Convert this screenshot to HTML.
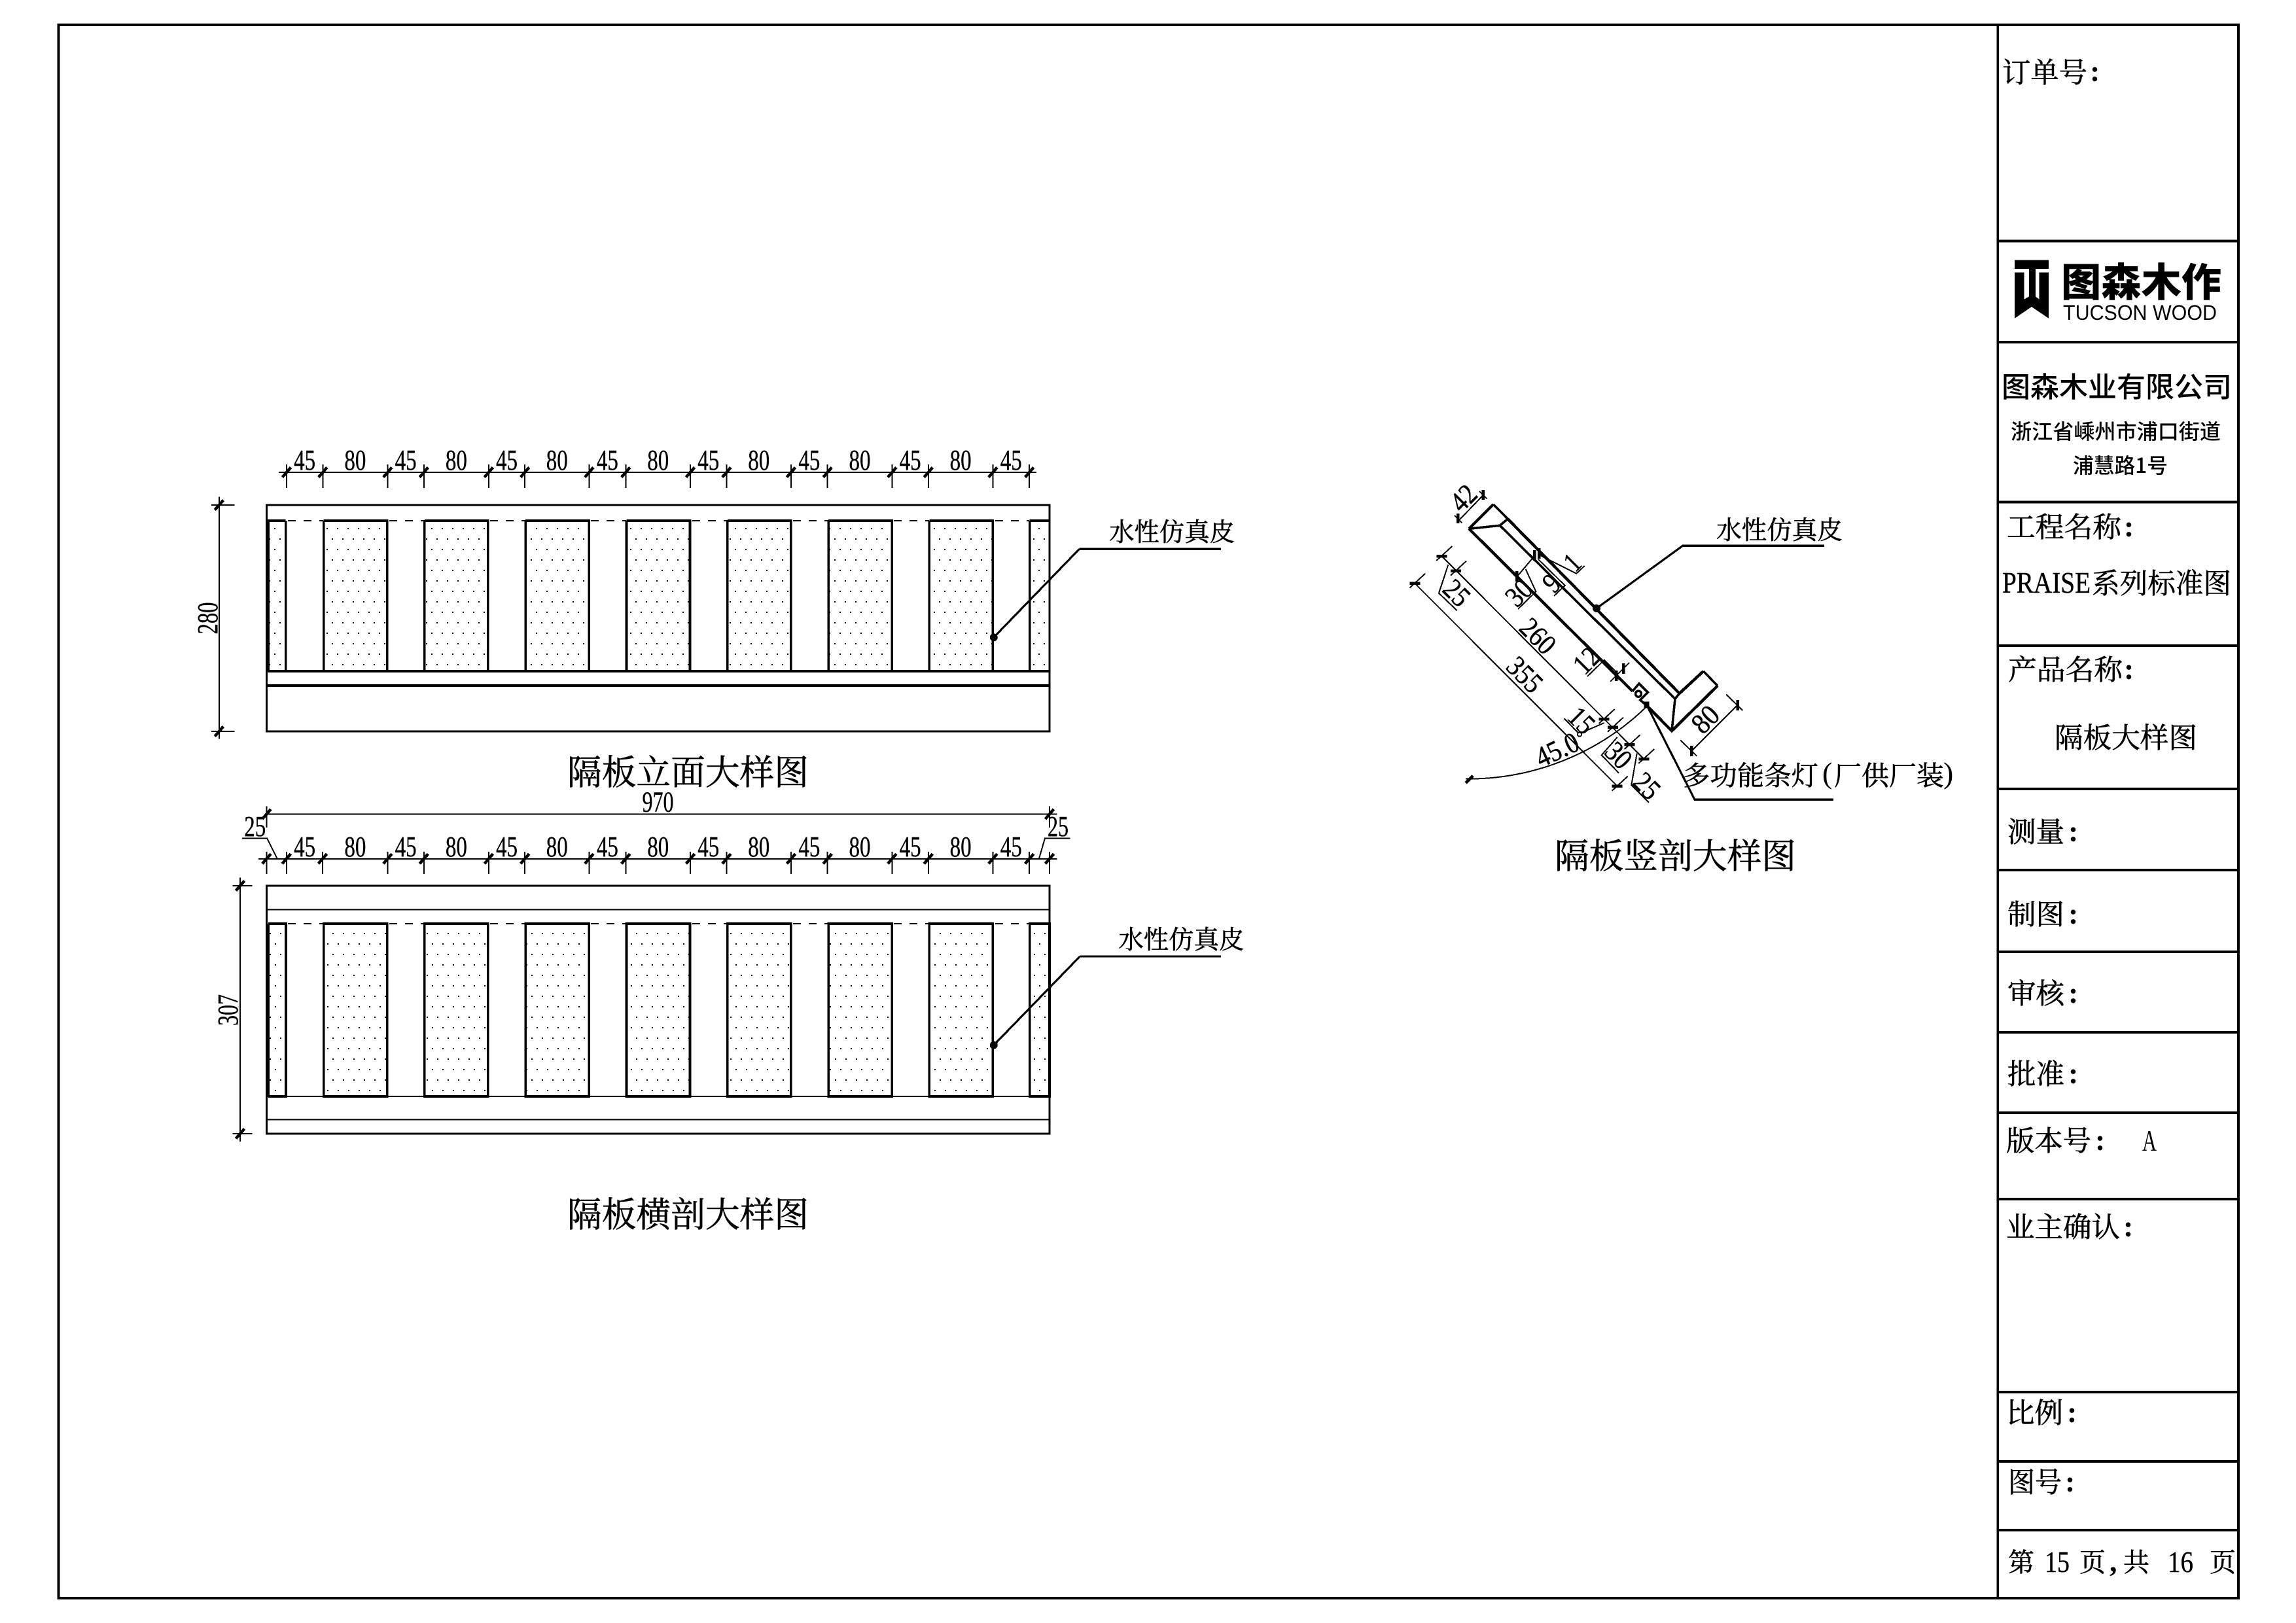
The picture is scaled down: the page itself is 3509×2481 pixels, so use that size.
<!DOCTYPE html>
<html lang="zh"><head><meta charset="utf-8"><title>隔板大样图</title>
<style>
html,body{margin:0;padding:0;background:#fff}
svg{display:block}
.l{fill:none;stroke:#000;stroke-width:2;stroke-linecap:butt}
.m{fill:none;stroke:#000;stroke-width:3.2}
.b{fill:none;stroke:#000;stroke-width:3.6}
.k{fill:none;stroke:#000;stroke-width:4.5}
.n{font-family:"Liberation Serif",serif;font-size:44px;fill:#000;text-anchor:middle;stroke:#000;stroke-width:.4}
.r{font-family:"Liberation Serif",serif;font-size:44px;fill:#000;text-anchor:middle;stroke:#000;stroke-width:.5}
.c{font-family:"Noto Serif CJK SC","Liberation Serif",serif;fill:#000;stroke:#000;stroke-width:.6}
.s{font-family:"Noto Sans CJK SC","Liberation Sans",sans-serif;fill:#000}
.d{font-family:"Liberation Serif",serif;font-weight:700;font-size:46px;fill:#000}
</style></head><body>
<svg xmlns="http://www.w3.org/2000/svg" width="3509" height="2481" viewBox="0 0 3509 2481" style="shape-rendering:crispEdges">
<defs>
<pattern id="p1" patternUnits="userSpaceOnUse" x="515" y="807" width="16" height="32"><rect x="0" y="0" width="2" height="2"/><rect x="8" y="16" width="2" height="2"/></pattern>
<pattern id="p2" patternUnits="userSpaceOnUse" x="508" y="1426" width="16" height="32"><rect x="0" y="0" width="2" height="2"/><rect x="8" y="16" width="2" height="2"/></pattern>
</defs>
<rect width="3509" height="2481" fill="#fff"/>

<!-- frame and title block -->
<rect x="89.5" y="38" width="3331.5" height="2405" fill="none" stroke="#000" stroke-width="3.6"/>
<path class="b" d="M3053.4 38V2443M3053.4 368.5H3421M3053.4 523H3421M3053.4 767.5H3421M3053.4 987H3421M3053.4 1206H3421M3053.4 1330H3421M3053.4 1455H3421M3053.4 1578H3421M3053.4 1701H3421M3053.4 1833H3421M3053.4 2128H3421M3053.4 2234H3421M3053.4 2339H3421"/>

<text class="c" x="3060" y="126" font-size="43" textLength="130" lengthAdjust="spacingAndGlyphs">订单号</text><text class="d" x="3194" y="124">:</text>
<path d="M3079 397.7H3131V486.7L3105 469L3079 486.7Z" fill="#000"/>
<path d="M3079 411H3101V453.3L3093.3 457.7V416.7H3079ZM3131 411H3111V453.3L3116.7 457.7V416.7H3131Z" fill="#fff"/>
<text class="s" x="3150" y="453" font-size="60" font-weight="900" textLength="245" lengthAdjust="spacingAndGlyphs">图森木作</text>
<text x="3153" y="489" font-family="Liberation Sans,sans-serif" font-size="32" textLength="235" lengthAdjust="spacingAndGlyphs">TUCSON WOOD</text>
<text class="s" x="3059" y="607" font-size="43" font-weight="500" textLength="352" lengthAdjust="spacingAndGlyphs">图森木业有限公司</text>
<text class="s" x="3073" y="671" font-size="32" font-weight="500" textLength="321" lengthAdjust="spacingAndGlyphs">浙江省嵊州市浦口街道</text>
<text class="s" x="3168" y="723" font-size="32" font-weight="500" textLength="145" lengthAdjust="spacingAndGlyphs">浦慧路1号</text>

<text class="c" x="3067" y="821" font-size="43" textLength="175" lengthAdjust="spacingAndGlyphs">工程名称</text><text class="d" x="3246" y="820">:</text>
<text x="3060" y="906" font-family="Liberation Serif,serif" font-size="46" textLength="135" lengthAdjust="spacingAndGlyphs" stroke="#000" stroke-width=".4">PRAISE</text>
<text class="c" x="3197" y="907" font-size="43" textLength="213" lengthAdjust="spacingAndGlyphs">系列标准图</text>
<text class="c" x="3069" y="1039" font-size="43" textLength="175" lengthAdjust="spacingAndGlyphs">产品名称</text><text class="d" x="3246" y="1038">:</text>
<text class="c" x="3140" y="1143" font-size="43" textLength="218" lengthAdjust="spacingAndGlyphs">隔板大样图</text>
<text class="c" x="3068" y="1287" font-size="43" textLength="87" lengthAdjust="spacingAndGlyphs">测量</text><text class="d" x="3161" y="1286">:</text>
<text class="c" x="3068" y="1413" font-size="43" textLength="87" lengthAdjust="spacingAndGlyphs">制图</text><text class="d" x="3161" y="1412">:</text>
<text class="c" x="3068" y="1534" font-size="43" textLength="87" lengthAdjust="spacingAndGlyphs">审核</text><text class="d" x="3161" y="1533">:</text>
<text class="c" x="3068" y="1657" font-size="43" textLength="87" lengthAdjust="spacingAndGlyphs">批准</text><text class="d" x="3161" y="1656">:</text>
<text class="c" x="3066" y="1759" font-size="43" textLength="130" lengthAdjust="spacingAndGlyphs">版本号</text><text class="d" x="3202" y="1758">:</text>
<text x="3274" y="1759" font-family="Liberation Serif,serif" font-size="46" textLength="22" lengthAdjust="spacingAndGlyphs">A</text>
<text class="c" x="3066" y="1891" font-size="43" textLength="174" lengthAdjust="spacingAndGlyphs">业主确认</text><text class="d" x="3245" y="1890">:</text>
<text class="c" x="3066" y="2175" font-size="43" textLength="87" lengthAdjust="spacingAndGlyphs">比例</text><text class="d" x="3159" y="2174">:</text>
<text class="c" x="3069" y="2281" font-size="43" textLength="82" lengthAdjust="spacingAndGlyphs">图号</text><text class="d" x="3156" y="2280">:</text>
<text class="c" x="3069" y="2402" font-size="40" textLength="40" lengthAdjust="spacingAndGlyphs">第</text>
<text x="3125" y="2403" font-family="Liberation Serif,serif" font-size="46" textLength="38" lengthAdjust="spacingAndGlyphs" stroke="#000" stroke-width=".4">15</text>
<text class="c" x="3178" y="2402" font-size="40" textLength="40" lengthAdjust="spacingAndGlyphs">页</text>
<text x="3224" y="2402" font-family="Liberation Serif,serif" font-size="46" font-weight="700">,</text>
<text class="c" x="3245" y="2402" font-size="40" textLength="40" lengthAdjust="spacingAndGlyphs">共</text>
<text x="3313" y="2403" font-family="Liberation Serif,serif" font-size="46" textLength="39" lengthAdjust="spacingAndGlyphs" stroke="#000" stroke-width=".4">16</text>
<text class="c" x="3377" y="2402" font-size="40" textLength="40" lengthAdjust="spacingAndGlyphs">页</text>

<!-- elevation -->
<g fill="url(#p1)">
<rect x="409" y="796" width="27.6" height="230"/><rect x="494.6" y="796" width="97" height="230"/><rect x="648.9" y="796" width="97" height="230"/><rect x="803.2" y="796" width="97" height="230"/><rect x="957.5" y="796" width="97" height="230"/><rect x="1111.8" y="796" width="97" height="230"/><rect x="1266.1" y="796" width="97" height="230"/><rect x="1420.4" y="796" width="97" height="230"/><rect x="1573.7" y="796" width="30" height="230"/>
</g>
<rect class="m" x="407.5" y="772" width="1196.5" height="346"/>
<path class="b" d="M407.5 1026H1604M407.5 1048H1604M410 796V1026M436.6 796V1026M407.5 796H436.6M1573.7 796V1026M1573.7 796H1604"/>
<path class="b" d="M494.6 796H591.6V1026M494.6 796V1026M648.9 796H745.9V1026M648.9 796V1026M803.2 796H900.2V1026M803.2 796V1026M957.5 796H1054.5V1026M957.5 796V1026M1111.8 796H1208.8V1026M1111.8 796V1026M1266.1 796H1363.1V1026M1266.1 796V1026M1420.4 796H1517.4V1026M1420.4 796V1026"/>
<path class="l" stroke-dasharray="12 12" d="M440 796H494M595 796H649M749 796H803M903 796H957M1058 796H1112M1212 796H1266M1366 796H1420M1521 796H1573"/>
<path class="l" d="M426 722H1584M438 710V746M493.3 710V746M592.4 710V746M647.8 710V746M746.9 710V746M802.2 710V746M900.4 710V746M956.3 710V746M1055 710V746M1110.4 710V746M1209 710V746M1264.7 710V746M1363.4 710V746M1418.8 710V746M1517.4 710V746M1573.2 710V746"/>
<path class="k" d="M431.5 729.5l13-15M486.8 729.5l13-15M585.9 729.5l13-15M641.3 729.5l13-15M740.4 729.5l13-15M795.7 729.5l13-15M893.9 729.5l13-15M949.8 729.5l13-15M1048.5 729.5l13-15M1103.9 729.5l13-15M1202.5 729.5l13-15M1258.2 729.5l13-15M1356.9 729.5l13-15M1412.3 729.5l13-15M1510.9 729.5l13-15M1566.7 729.5l13-15"/>
<g>
<text class="n" x="465.6" y="718" textLength="33" lengthAdjust="spacingAndGlyphs">45</text>
<text class="n" x="542.9" y="718" textLength="33" lengthAdjust="spacingAndGlyphs">80</text>
<text class="n" x="620.1" y="718" textLength="33" lengthAdjust="spacingAndGlyphs">45</text>
<text class="n" x="697.4" y="718" textLength="33" lengthAdjust="spacingAndGlyphs">80</text>
<text class="n" x="774.5" y="718" textLength="33" lengthAdjust="spacingAndGlyphs">45</text>
<text class="n" x="851.3" y="718" textLength="33" lengthAdjust="spacingAndGlyphs">80</text>
<text class="n" x="928.4" y="718" textLength="33" lengthAdjust="spacingAndGlyphs">45</text>
<text class="n" x="1005.7" y="718" textLength="33" lengthAdjust="spacingAndGlyphs">80</text>
<text class="n" x="1082.7" y="718" textLength="33" lengthAdjust="spacingAndGlyphs">45</text>
<text class="n" x="1159.7" y="718" textLength="33" lengthAdjust="spacingAndGlyphs">80</text>
<text class="n" x="1236.9" y="718" textLength="33" lengthAdjust="spacingAndGlyphs">45</text>
<text class="n" x="1314" y="718" textLength="33" lengthAdjust="spacingAndGlyphs">80</text>
<text class="n" x="1391.1" y="718" textLength="33" lengthAdjust="spacingAndGlyphs">45</text>
<text class="n" x="1468.1" y="718" textLength="33" lengthAdjust="spacingAndGlyphs">80</text>
<text class="n" x="1545.3" y="718" textLength="33" lengthAdjust="spacingAndGlyphs">45</text>
</g>
<path class="l" d="M334.8 759.3V1129.3M323 772H358.5M323 1118H358.5"/>
<path class="k" d="M328.3 779.5l13-15M328.3 1125.5l13-15"/>
<text class="n" transform="translate(332 945) rotate(-90)" textLength="49" lengthAdjust="spacingAndGlyphs">280</text>
<path class="m" d="M1649.5 839.3H1866M1518.8 974.3L1649.5 839.3"/>
<ellipse cx="1518.8" cy="974.3" rx="6" ry="6" fill="#000"/>
<text class="c" x="1695" y="827" font-size="39" textLength="192" lengthAdjust="spacingAndGlyphs">水性仿真皮</text>
<text class="c" x="867" y="1199" font-size="53" textLength="369" lengthAdjust="spacingAndGlyphs">隔板立面大样图</text>

<!-- section -->
<g fill="url(#p2)">
<rect x="409" y="1412" width="27.6" height="264"/><rect x="494.6" y="1412" width="97" height="264"/><rect x="648.9" y="1412" width="97" height="264"/><rect x="803.2" y="1412" width="97" height="264"/><rect x="957.5" y="1412" width="97" height="264"/><rect x="1111.8" y="1412" width="97" height="264"/><rect x="1266.1" y="1412" width="97" height="264"/><rect x="1420.4" y="1412" width="97" height="264"/><rect x="1573.7" y="1412" width="30" height="264"/>
</g>
<rect class="m" x="407.5" y="1354" width="1196.5" height="379"/>
<path class="l" d="M407.5 1390.3H1604M407.5 1711.7H1604M407.5 1676H1604"/>
<path class="b" d="M410 1412V1676M410 1412H437V1676H410M494.6 1412H591.6V1676H494.6ZM648.9 1412H745.9V1676H648.9ZM803.2 1412H900.2V1676H803.2ZM957.5 1412H1054.5V1676H957.5ZM1111.8 1412H1208.8V1676H1111.8ZM1266.1 1412H1363.1V1676H1266.1ZM1420.4 1412H1517.4V1676H1420.4ZM1573.7 1412H1604V1676H1573.7Z"/>
<path class="l" stroke-dasharray="12 12" d="M440 1412H494M595 1412H649M749 1412H803M903 1412H957M1058 1412H1112M1212 1412H1266M1366 1412H1420M1521 1412H1573"/>
<path class="l" d="M395 1312.8H1615.6M407.4 1302V1336M437.8 1302V1336M493 1302V1336M592.4 1302V1336M647.8 1302V1336M746.9 1302V1336M802.2 1302V1336M900.4 1302V1336M956.3 1302V1336M1055 1302V1336M1110.4 1302V1336M1209 1302V1336M1264.7 1302V1336M1363.4 1302V1336M1418.8 1302V1336M1517.4 1302V1336M1573.2 1302V1336M1604 1302V1336"/>
<path class="k" d="M400.9 1320.3l13-15M431.3 1320.3l13-15M486.5 1320.3l13-15M585.9 1320.3l13-15M641.3 1320.3l13-15M740.4 1320.3l13-15M795.7 1320.3l13-15M893.9 1320.3l13-15M949.8 1320.3l13-15M1048.5 1320.3l13-15M1103.9 1320.3l13-15M1202.5 1320.3l13-15M1258.2 1320.3l13-15M1356.9 1320.3l13-15M1412.3 1320.3l13-15M1510.9 1320.3l13-15M1566.7 1320.3l13-15M1597.5 1320.3l13-15"/>
<g>
<text class="n" x="465.6" y="1309" textLength="33" lengthAdjust="spacingAndGlyphs">45</text>
<text class="n" x="542.9" y="1309" textLength="33" lengthAdjust="spacingAndGlyphs">80</text>
<text class="n" x="620.1" y="1309" textLength="33" lengthAdjust="spacingAndGlyphs">45</text>
<text class="n" x="697.4" y="1309" textLength="33" lengthAdjust="spacingAndGlyphs">80</text>
<text class="n" x="774.5" y="1309" textLength="33" lengthAdjust="spacingAndGlyphs">45</text>
<text class="n" x="851.3" y="1309" textLength="33" lengthAdjust="spacingAndGlyphs">80</text>
<text class="n" x="928.4" y="1309" textLength="33" lengthAdjust="spacingAndGlyphs">45</text>
<text class="n" x="1005.7" y="1309" textLength="33" lengthAdjust="spacingAndGlyphs">80</text>
<text class="n" x="1082.7" y="1309" textLength="33" lengthAdjust="spacingAndGlyphs">45</text>
<text class="n" x="1159.7" y="1309" textLength="33" lengthAdjust="spacingAndGlyphs">80</text>
<text class="n" x="1236.9" y="1309" textLength="33" lengthAdjust="spacingAndGlyphs">45</text>
<text class="n" x="1314" y="1309" textLength="33" lengthAdjust="spacingAndGlyphs">80</text>
<text class="n" x="1391.1" y="1309" textLength="33" lengthAdjust="spacingAndGlyphs">45</text>
<text class="n" x="1468.1" y="1309" textLength="33" lengthAdjust="spacingAndGlyphs">80</text>
<text class="n" x="1545.3" y="1309" textLength="33" lengthAdjust="spacingAndGlyphs">45</text>
<text class="n" x="1005.5" y="1240.5" textLength="48" lengthAdjust="spacingAndGlyphs">970</text>
<text class="n" x="389.7" y="1278" textLength="33" lengthAdjust="spacingAndGlyphs">25</text>
<text class="n" x="1617" y="1278" textLength="32" lengthAdjust="spacingAndGlyphs">25</text>
</g>
<path class="l" d="M407 1244.5H1615.6M407.4 1232.4V1265M1604 1232.4V1265M370 1281.4H408L423.5 1312.4M1635.7 1281.4H1597L1588 1312.4"/>
<path class="k" d="M400.9 1252l13-15M1597.5 1252l13-15"/>
<path class="l" d="M367 1341.4V1744.8M355.6 1354H385.5M355.6 1733H385.5"/>
<path class="k" d="M360.5 1361.5l13-15M360.5 1740.5l13-15"/>
<text class="n" transform="translate(363 1544) rotate(-90)" textLength="48" lengthAdjust="spacingAndGlyphs">307</text>
<path class="m" d="M1650.4 1462H1866M1518.8 1597.6L1650.4 1462"/>
<ellipse cx="1518.8" cy="1597.6" rx="6" ry="6" fill="#000"/>
<text class="c" x="1709.4" y="1450" font-size="39" textLength="192" lengthAdjust="spacingAndGlyphs">水性仿真皮</text>
<text class="c" x="867" y="1875" font-size="53" textLength="369" lengthAdjust="spacingAndGlyphs">隔板横剖大样图</text>

<!-- vertical section -->
<path class="k" d="M2245 808.3L2282.3 771M2245 808.3L2495 1056.7M2304.3 793.3L2566.7 1060L2603.3 1026M2516 1078L2555 1117.3L2625 1048.3"/>
<path class="b" d="M2245 808.3L2292.3 803.3L2560 1068.3L2566.7 1060M2282.3 771L2304.3 793.3L2292.3 803.3M2603.3 1026L2625 1048.3M2560 1068.3L2555 1117.3M2495 1056.7L2505 1045L2518.3 1058.3L2506.7 1070L2516 1078"/>
<circle cx="2504" cy="1060.7" r="4.5" fill="none" stroke="#000" stroke-width="3.5"/>
<!-- 355 and chained dimensions -->
<path class="l" d="M2162.3 891.7L2471.7 1201.7M2203.3 850L2512.3 1160"/>
<path class="l" d="M2154.3 898.7L2178.3 876.7M2195.3 857L2219.3 835M2217 879.7L2241 857.7M2443.7 1106L2467.7 1084M2457 1118.7L2481 1096.7M2482.7 1145.3L2506.7 1123.3M2504.3 1167L2528.3 1145M2463.7 1208.7L2487.7 1186.7"/>
<path class="k" d="M2154.3 891.7h16M2195.3 850h16M2217 872.7h16M2443.7 1099h16M2457 1111.7h16M2482.7 1138.3h16M2504.3 1160h16M2463.7 1201.7h16"/>
<!-- 42 -->
<path class="l" d="M2230 795L2267 756.7M2223 788L2234.3 799.3M2261 751L2272.3 762.3"/>
<path class="k" d="M2228.3 785v15M2266.7 749v15"/>
<text class="r" transform="translate(2237 761.7) rotate(-45)" y="14" textLength="38" lengthAdjust="spacingAndGlyphs">42</text>
<!-- 80 -->
<path class="l" d="M2585 1148.3L2655.7 1077.7M2568.3 1131.7L2593.3 1155.7M2638.3 1061.7L2663.3 1086"/>
<path class="k" d="M2585 1140v16M2655.7 1070v16"/>
<text class="r" transform="translate(2606.7 1100) rotate(-45)" y="14" textLength="40" lengthAdjust="spacingAndGlyphs">80</text>
<!-- labels along long dims -->
<text class="r" transform="translate(2350 972.7) rotate(45)" y="14" textLength="58" lengthAdjust="spacingAndGlyphs">260</text>
<text class="r" transform="translate(2330 1031.7) rotate(45)" y="14" textLength="58" lengthAdjust="spacingAndGlyphs">355</text>
<path class="l" d="M2213.3 863.3L2199 906.7L2226.7 933.3"/>
<text class="r" transform="translate(2226 906.7) rotate(45)" y="14" textLength="38" lengthAdjust="spacingAndGlyphs">25</text>
<!-- 30 -->
<path class="l" d="M2318.3 881.7L2345 850M2331.7 870L2347.3 904.3L2320 931M2312 873L2325 890"/>
<path class="k" d="M2318.3 873v16M2345 841v16M2352.3 838v16"/>
<text class="r" transform="translate(2321.7 906.7) rotate(-45)" y="14" textLength="38" lengthAdjust="spacingAndGlyphs">30</text>
<!-- 1 -->
<path class="l" d="M2352 848L2409.3 876.7L2421.7 865"/>
<text class="r" transform="translate(2403.3 860) rotate(-45)" y="14" textLength="17" lengthAdjust="spacingAndGlyphs">1</text>
<!-- 9 -->
<path class="l" d="M2351 855L2391.7 895L2375 911"/>
<text class="r" transform="translate(2371.7 891.7) rotate(-45)" y="14" textLength="19" lengthAdjust="spacingAndGlyphs">9</text>
<!-- 12 -->
<path class="l" d="M2426 1034L2451.7 1009L2470 1027"/>
<path class="k" d="M2470 1025v16M2481 1014v16"/>
<path class="l" d="M2461 1042L2479 1024M2472 1031L2490 1013"/>
<text class="r" transform="translate(2425 1010) rotate(-45)" y="14" textLength="38" lengthAdjust="spacingAndGlyphs">12</text>
<!-- 15 -->
<path class="l" d="M2390.7 1098.3L2413.3 1121.7L2451.7 1105"/>
<circle cx="2414" cy="1122.7" r="3" fill="#fff" stroke="#000" stroke-width="2"/>
<text class="r" transform="translate(2416.7 1101.7) rotate(45)" y="14" textLength="38" lengthAdjust="spacingAndGlyphs">15</text>
<!-- 30 lower -->
<path class="l" d="M2471.7 1127L2447.7 1154.3L2474 1181.7"/>
<text class="r" transform="translate(2473.3 1155) rotate(45)" y="14" textLength="38" lengthAdjust="spacingAndGlyphs">30</text>
<!-- 25 lower -->
<path class="l" d="M2501.7 1151.7L2493.3 1200L2520 1226.7"/>
<text class="r" transform="translate(2516.7 1201.7) rotate(45)" y="14" textLength="38" lengthAdjust="spacingAndGlyphs">25</text>
<!-- angle -->
<path class="l" d="M2240 1190.6A391 391 0 0 0 2516.7 1080" stroke-width="2.4"/>
<path class="k" d="M2240 1197L2251 1186"/>
<text class="r" transform="translate(2380 1146.7) rotate(-25)" y="14" textLength="68" lengthAdjust="spacingAndGlyphs">45.0</text>
<!-- leaders -->
<path class="m" d="M2440 930L2571.7 834.3H2788"/>
<circle cx="2440" cy="930" r="6" fill="#000"/>
<text class="c" x="2623" y="824" font-size="39" textLength="193" lengthAdjust="spacingAndGlyphs">水性仿真皮</text>
<path class="m" d="M2516.7 1077.7L2590 1222.3H2802"/>
<rect x="2512.7" y="1072.7" width="8" height="10" fill="#000"/>
<text class="c" x="2572" y="1200" font-size="41" textLength="207" lengthAdjust="spacingAndGlyphs">多功能条灯</text>
<text x="2785" y="1197" font-family="Liberation Serif,serif" font-size="46">(</text>
<text class="c" x="2803" y="1200" font-size="41" textLength="168" lengthAdjust="spacingAndGlyphs">厂供厂装</text>
<text x="2970" y="1197" font-family="Liberation Serif,serif" font-size="46">)</text>
<text class="c" x="2376" y="1327" font-size="53" textLength="369" lengthAdjust="spacingAndGlyphs">隔板竖剖大样图</text>
</svg>
</body></html>
